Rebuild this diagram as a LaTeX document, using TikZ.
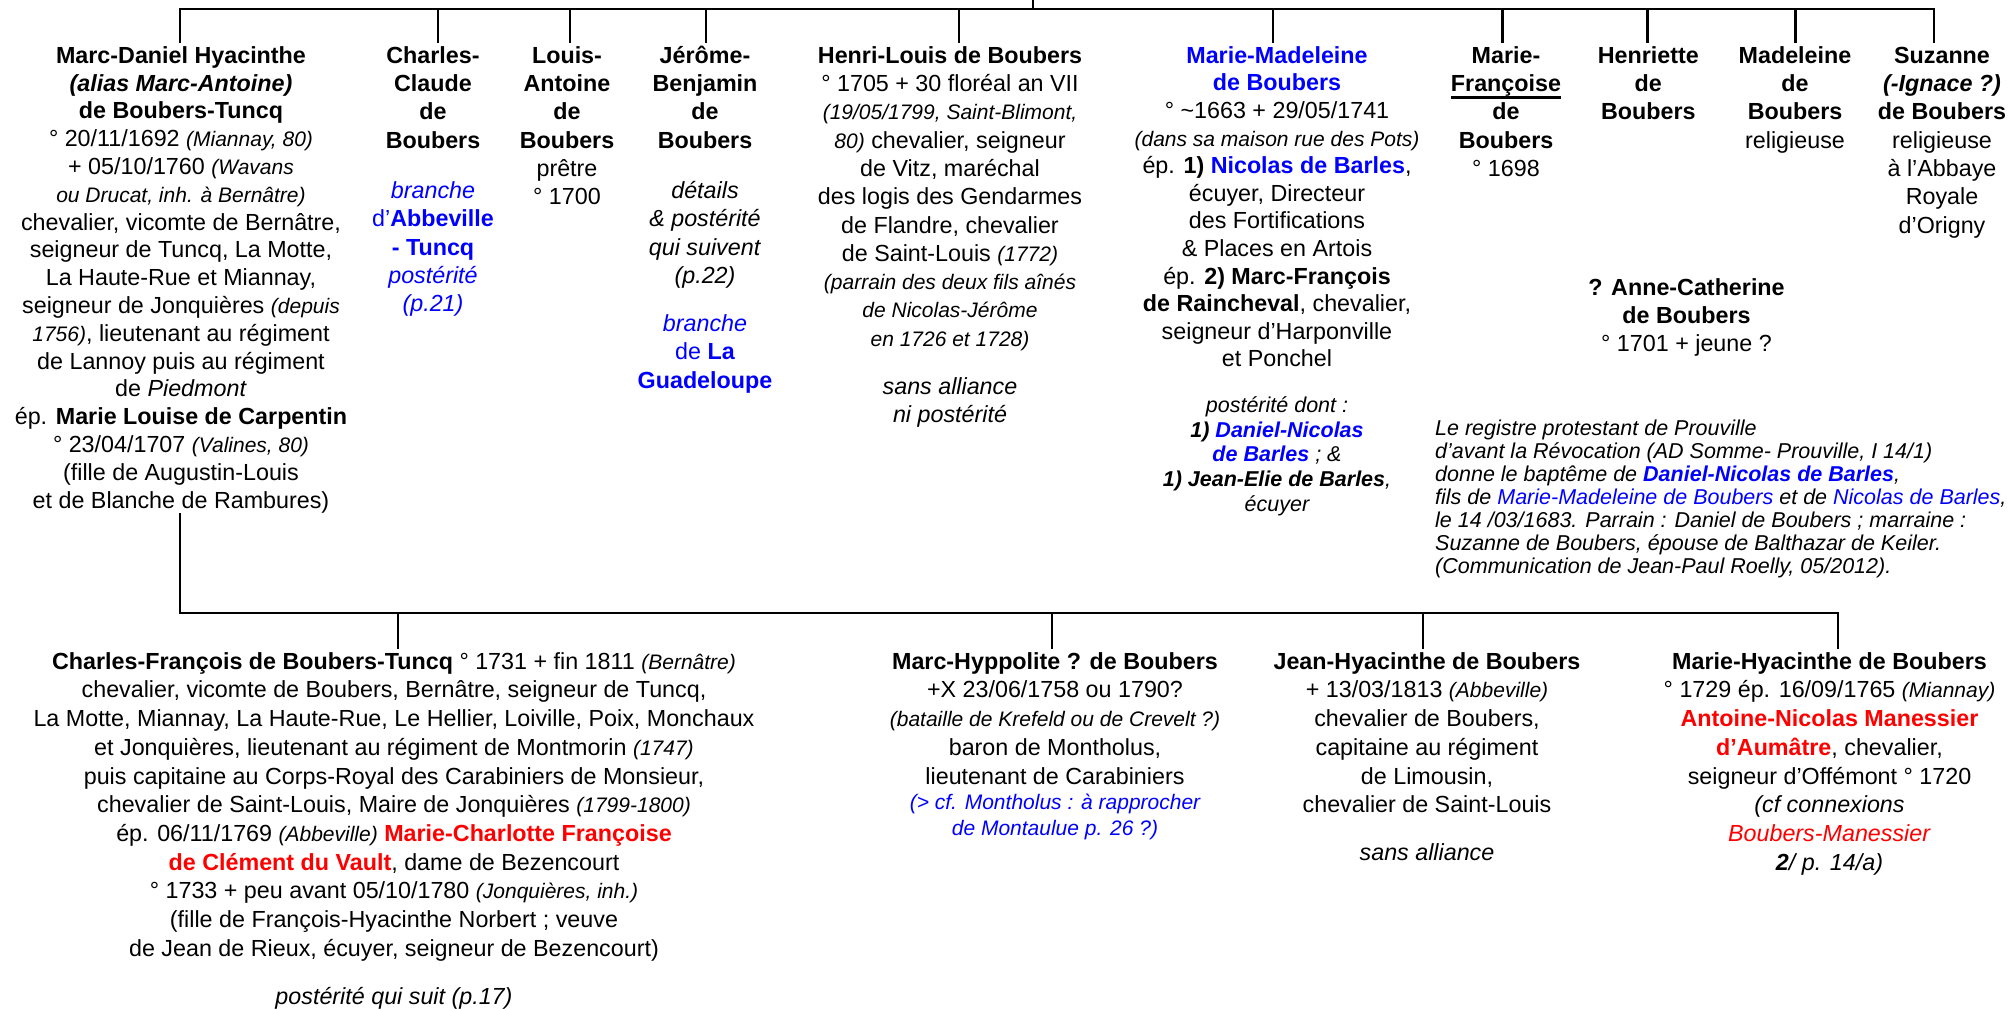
\documentclass[tikz,border=0pt]{standalone}
\usepackage{fontspec}
\setmainfont{Liberation Sans}
\definecolor{myblue}{RGB}{0,0,255}
\definecolor{myred}{RGB}{255,0,0}
\newcommand\fs{\rule{0pt}{20.5pt}}
\newcommand\sm[1]{{\fontsize{21}{25}\selectfont\itshape #1}}
\newcommand\ul[1]{\setbox0=\hbox{#1}\rlap{\rule[-7pt]{\wd0}{2.2pt}}\box0}
\tikzset{
  conn/.style={line width=2.5pt},
  tp/.style={anchor=north, inner sep=0pt, align=center, font=\fontsize{23.3}{28.3}\selectfont},
  bt/.style={anchor=north, inner sep=0pt, align=center, font=\fontsize{23.3}{28.7}\selectfont},
  notebox/.style={anchor=north west, inner sep=0pt, align=left, font=\fontsize{21.5}{23.1}\selectfont\itshape},
}
\begin{document}
\begin{tikzpicture}[x=1pt,y=-1pt]
\useasboundingbox (0,0) rectangle (2013,1009);
\fill[white] (0,0) rectangle (2013,1009);

% ---------- first generation ----------
\node[tp, font=\fontsize{23.3}{27.8}\selectfont] (md) at (181,42.5) {\fs\textbf{Marc-Daniel Hyacinthe}\\
\textbf{\textit{(alias Marc-Antoine)}}\\
\textbf{de Boubers-Tuncq}\\
° 20/11/1692 \sm{(Miannay, 80)}\\
+ 05/10/1760 \sm{(Wavans}\\
\sm{ou Drucat, inh. à Bernâtre)}\\
chevalier, vicomte de Bernâtre,\\
seigneur de Tuncq, La Motte,\\
La Haute-Rue et Miannay,\\
seigneur de Jonquières \sm{(depuis}\\
\sm{1756)}, lieutenant au régiment\\
de Lannoy puis au régiment\\
de \textit{Piedmont}\\
ép. \textbf{Marie Louise de Carpentin}\\
° 23/04/1707 \sm{(Valines, 80)}\\
(fille de Augustin-Louis\\
et de Blanche de Rambures)};

\node[tp] (cc) at (433,42.5) {\fs\textbf{Charles-}\\ \textbf{Claude}\\ \textbf{de}\\ \textbf{Boubers}\\[22pt]
\textcolor{myblue}{\textit{branche}}\\
\textcolor{myblue}{d’\textbf{Abbeville}}\\
\textcolor{myblue}{\textbf{- Tuncq}}\\
\textcolor{myblue}{\textit{postérité}}\\
\textcolor{myblue}{\textit{(p.21)}}};

\node[tp] (la) at (567,42.5) {\fs\textbf{Louis-}\\ \textbf{Antoine}\\ \textbf{de}\\ \textbf{Boubers}\\ prêtre\\ ° 1700};

\node[tp] (jb) at (705,42.5) {\fs\textbf{Jérôme-}\\ \textbf{Benjamin}\\ \textbf{de}\\ \textbf{Boubers}\\[22pt]
\textit{détails}\\ \textit{\& postérité}\\ \textit{qui suivent}\\ \textit{(p.22)}\\[20pt]
\textcolor{myblue}{\textit{branche}}\\
\textcolor{myblue}{de \textbf{La}}\\
\textcolor{myblue}{\textbf{Guadeloupe}}};

\node[tp] (hl) at (950,42.5) {\fs\textbf{Henri-Louis de Boubers}\\
° 1705 + 30 floréal an VII\\
\sm{(19/05/1799, Saint-Blimont,}\\
\sm{80)} chevalier, seigneur\\
de Vitz, maréchal\\
des logis des Gendarmes\\
de Flandre, chevalier\\
de Saint-Louis \sm{(1772)}\\
\sm{(parrain des deux fils aînés}\\
\sm{de Nicolas-Jérôme}\\
\sm{en 1726 et 1728)}\\[20pt]
\textit{sans alliance}\\
\textit{ni postérité}};

\node[tp, font=\fontsize{23.3}{27.6}\selectfont] (mm) at (1277,42.5) {\fs\textcolor{myblue}{\textbf{Marie-Madeleine}}\\
\textcolor{myblue}{\textbf{de Boubers}}\\
° {\textasciitilde}1663 + 29/05/1741\\
\sm{(dans sa maison rue des Pots)}\\
ép. \textbf{1)} \textcolor{myblue}{\textbf{Nicolas de Barles}},\\
écuyer, Directeur\\
des Fortifications\\
\& Places en Artois\\
ép. \textbf{2) Marc-François}\\
\textbf{de Raincheval}, chevalier,\\
seigneur d’Harponville\\
et Ponchel};

\node[tp, font=\fontsize{21.5}{24.8}\selectfont\itshape] (mmp) at (1277,391.5) {\fs postérité dont :\\
\textbf{1)} \textcolor{myblue}{\textbf{Daniel-Nicolas}}\\
\textcolor{myblue}{\textbf{de Barles}} ; \&\\
\textbf{1) Jean-Elie de Barles},\\
écuyer};

\node[tp] (mf) at (1506,42.5) {\fs\textbf{Marie-}\\ \textbf{\ul{Françoise}}\\ \textbf{de}\\ \textbf{Boubers}\\ ° 1698};
\node[tp] (he) at (1648.3,42.5) {\fs\textbf{Henriette}\\ \textbf{de}\\ \textbf{Boubers}};
\node[tp] (ma) at (1795,42.5) {\fs\textbf{Madeleine}\\ \textbf{de}\\ \textbf{Boubers}\\ religieuse};
\node[tp] (su) at (1942,42.5) {\fs\textbf{Suzanne}\\ \textbf{\textit{(-Ignace ?)}}\\ \textbf{de Boubers}\\ religieuse\\ à l’Abbaye\\ Royale\\ d’Origny};

\node[tp, font=\fontsize{23.3}{28}\selectfont] (ac) at (1686.5,274.5) {\fs\textbf{? Anne-Catherine}\\ \textbf{de Boubers}\\ ° 1701 + jeune ?};

\node[notebox] (nt) at (1435,414.5) {\fs Le registre protestant de Prouville\\
d’avant la Révocation (AD Somme- Prouville, I 14/1)\\
donne le baptême de \textcolor{myblue}{\textbf{Daniel-Nicolas de Barles}},\\
fils de \textcolor{myblue}{Marie-Madeleine de Boubers} et de \textcolor{myblue}{Nicolas de Barles},\\
le 14 /03/1683. Parrain : Daniel de Boubers ; marraine :\\
Suzanne de Boubers, épouse de Balthazar de Keiler.\\
(Communication de Jean-Paul Roelly, 05/2012).};

% ---------- second generation ----------
\node[bt] (cf) at (394,648.5) {\fs\textbf{Charles-François de Boubers-Tuncq} ° 1731 + fin 1811 \sm{(Bernâtre)}\\
chevalier, vicomte de Boubers, Bernâtre, seigneur de Tuncq,\\
La Motte, Miannay, La Haute-Rue, Le Hellier, Loiville, Poix, Monchaux\\
et Jonquières, lieutenant au régiment de Montmorin \sm{(1747)}\\
puis capitaine au Corps-Royal des Carabiniers de Monsieur,\\
chevalier de Saint-Louis, Maire de Jonquières \sm{(1799-1800)}\\
ép. 06/11/1769 \sm{(Abbeville)} \textcolor{myred}{\textbf{Marie-Charlotte Françoise}}\\
\textcolor{myred}{\textbf{de Clément du Vault}}, dame de Bezencourt\\
° 1733 + peu avant 05/10/1780 \sm{(Jonquières, inh.)}\\
(fille de François-Hyacinthe Norbert ; veuve\\
de Jean de Rieux, écuyer, seigneur de Bezencourt)\\[20pt]
\textit{postérité qui suit (p.17)}};

\node[bt] (mh) at (1055,648.5) {\fs\textbf{Marc-Hyppolite ? de Boubers}\\
+X 23/06/1758 ou 1790?\\
\sm{(bataille de Krefeld ou de Crevelt ?)}\\
baron de Montholus,\\
lieutenant de Carabiniers\\[-3pt]
\textcolor{myblue}{\sm{(> cf. Montholus : à rapprocher}}\\[-3pt]
\textcolor{myblue}{\sm{de Montaulue p. 26 ?)}}};

\node[bt] (jh) at (1427,648.5) {\fs\textbf{Jean-Hyacinthe de Boubers}\\
+ 13/03/1813 \sm{(Abbeville)}\\
chevalier de Boubers,\\
capitaine au régiment\\
de Limousin,\\
chevalier de Saint-Louis\\[19pt]
\textit{sans alliance}};

\node[bt] (mhy) at (1829.5,648.5) {\fs\textbf{Marie-Hyacinthe de Boubers}\\
° 1729 ép. 16/09/1765 \sm{(Miannay)}\\
\textcolor{myred}{\textbf{Antoine-Nicolas Manessier}}\\
\textcolor{myred}{\textbf{d’Aumâtre}}, chevalier,\\
seigneur d’Offémont ° 1720\\
\textit{(cf connexions}\\
\textcolor{myred}{\textit{Boubers-Manessier}}\\
\textbf{\textit{2}}\textit{/ p. 14/a)}};

% ---------- connectors ----------
\coordinate (root) at (1033,0);
\coordinate (bar1) at (1033,9);
\coordinate (bar2) at (1000,613);
\coordinate (dMD) at ([xshift=-1pt]md.north);
\coordinate (dCC) at ([xshift=5pt]cc.north);
\coordinate (dLA) at ([xshift=3pt]la.north);
\coordinate (dJB) at ([xshift=1pt]jb.north);
\coordinate (dHL) at ([xshift=9pt]hl.north);
\coordinate (dMM) at ([xshift=-4pt]mm.north);
\coordinate (dMF) at ([xshift=-3.3pt]mf.north);
\coordinate (dHE) at ([xshift=-0.6pt]he.north);
\coordinate (dMA) at ([xshift=0.7pt]ma.north);
\coordinate (dSU) at ([xshift=-8pt]su.north);
\coordinate (uMD) at ([xshift=-1pt]md.south);
\coordinate (dCF) at ([xshift=4pt]cf.north);
\coordinate (dMH) at ([xshift=-3pt]mh.north);
\coordinate (dJH) at ([xshift=-4pt]jh.north);
\coordinate (dMHY) at ([xshift=8.5pt]mhy.north);

\draw[conn] (root) -- (bar1);
\draw[conn] (dMD) -- (dMD |- bar1) -- (dSU |- bar1) -- (dSU);
\foreach \c in {dCC,dLA,dJB,dHL,dMM,dMF,dHE,dMA}
  \draw[conn] (\c |- bar1) -- (\c);

\draw[conn] (uMD) -- (uMD |- bar2) -- (dMHY |- bar2) -- (dMHY);
\foreach \c in {dCF,dMH,dJH}
  \draw[conn] (\c |- bar2) -- (\c);
\end{tikzpicture}
\end{document}
